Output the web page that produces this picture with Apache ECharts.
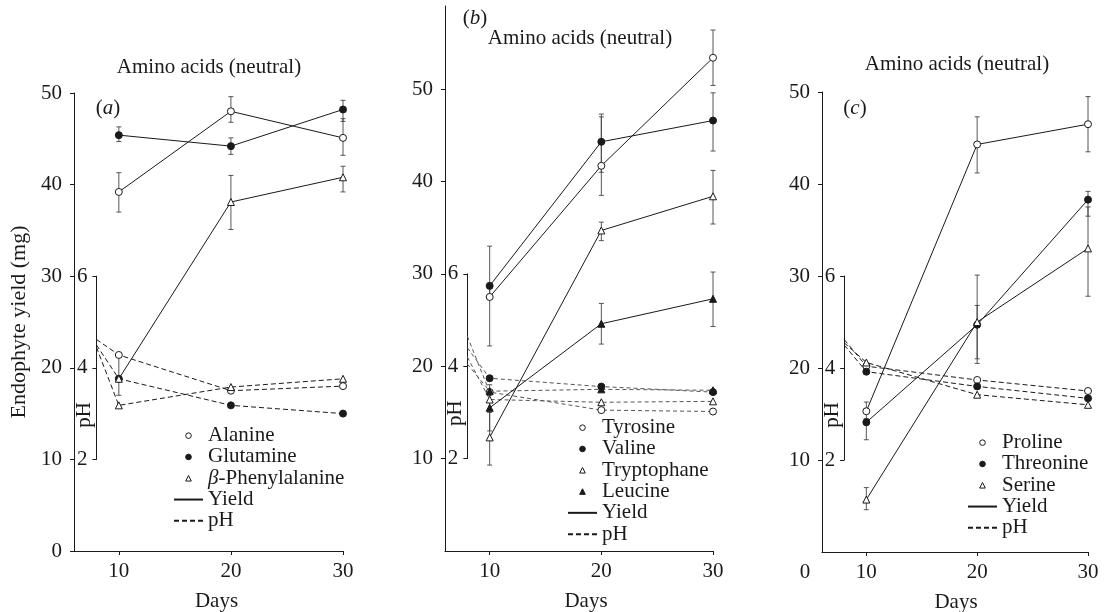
<!DOCTYPE html>
<html>
<head>
<meta charset="utf-8">
<script src="https://cdn.jsdelivr.net/npm/echarts@6/dist/echarts.min.js"></script>
<style>
  html, body { margin: 0; background: #fff; }
  #chart { width: 1109px; height: 612px; }
</style>
</head>
<body>
<div id="chart"></div>
<script>
// sampling days: yield is measured at 10/20/30, pH curves start at day 8
const days = [10, 20, 30]
const phDays = [8, 10, 20, 30]
const xTicks = [10, 20, 30]
const yTicksA = [0, 10, 20, 30, 40, 50]
const yTicksBC = [10, 20, 30, 40, 50]
const phTicks = [2, 4, 6]

// (a)
const alanineYield = [39.2, 48.0, 45.1]
const alanineErr = [[37.0, 41.3], [46.8, 49.6], [43.2, 47.2]]
const alaninePH = [4.62, 4.28, 3.5, 3.6]
const glutamineYield = [45.4, 44.2, 48.2]
const glutamineErr = [[44.7, 46.3], [43.3, 45.1], [46.9, 49.2]]
const glutaminePH = [4.5, 3.76, 3.18, 3.0]
const phenylalanineYield = [18.8, 38.1, 40.8]
const phenylalanineErr = [[17.0, 21.4], [35.1, 41.0], [39.2, 42.0]]
const phenylalaninePH = [4.45, 3.18, 3.58, 3.76]

// (b)
const tyrosineYield = [27.5, 41.7, 53.4]
const tyrosineErr = [[22.2, 29.0], [38.5, 47.0], [50.4, 56.4]]
const tyrosinePH = [4.65, 3.44, 3.05, 3.02]
const valineYield = [28.7, 44.3, 46.6]
const valineErr = [[27.5, 33.0], [41.0, 47.3], [43.3, 49.6]]
const valinePH = [4.4, 3.74, 3.56, 3.44]
const tryptophaneYield = [12.3, 34.7, 38.4]
const tryptophaneErr = [[9.3, 15.0], [33.6, 35.6], [35.4, 41.2]]
const tryptophanePH = [4.2, 3.28, 3.22, 3.24]
const leucineYield = [15.5, 24.6, 27.3]
const leucineErr = [[13.0, 18.0], [22.4, 26.8], [24.3, 30.2]]
const leucinePH = [4.05, 3.46, 3.5, 3.48]

// (c)
const prolineYield = [15.3, 44.3, 46.5]
const prolineErr = [[14.5, 16.3], [41.2, 47.3], [43.5, 49.5]]
const prolinePH = [4.62, 4.04, 3.74, 3.5]
const threonineYield = [14.1, 24.7, 38.3]
const threonineErr = [[12.2, 14.1], [20.5, 26.8], [36.5, 39.2]]
const threoninePH = [4.5, 3.92, 3.6, 3.34]
const serineYield = [5.7, 25.0, 33.0]
const serineErr = [[4.6, 7.0], [21.0, 30.1], [27.8, 37.5]]
const serinePH = [4.55, 4.12, 3.42, 3.2]

const INK = '#1a1a1a'
const FONT = 'Liberation Serif'

const MARK = {
  open: { symbol: 'circle', itemStyle: { color: '#fff', borderColor: INK, borderWidth: 1 } },
  dot: { symbol: 'circle', itemStyle: { color: INK, borderColor: INK, borderWidth: 1 } },
  openTri: { symbol: 'triangle', itemStyle: { color: '#fff', borderColor: INK, borderWidth: 1 } },
  dotTri: { symbol: 'triangle', itemStyle: { color: INK, borderColor: INK, borderWidth: 1 } }
}

const panels = [
  {
    grid: { left: 74, top: 93, width: 269, height: 458 },
    yMax: 50,
    yTicks: yTicksA,
    daysShift: 16,
    phDash: { color: INK, type: [5, 3] },
    legend: { left: 173, top: 425 },
    acids: [
      { name: 'Alanine', mark: 'open', y: alanineYield, err: alanineErr, ph: alaninePH },
      { name: 'Glutamine', mark: 'dot', y: glutamineYield, err: glutamineErr, ph: glutaminePH },
      { name: 'β-Phenylalanine', mark: 'openTri', y: phenylalanineYield, err: phenylalanineErr, ph: phenylalaninePH }
    ]
  },
  {
    grid: { left: 445, top: 6, width: 268, height: 545 },
    yMax: 59,
    yTicks: yTicksBC,
    daysShift: 14,
    phDash: { color: '#555', type: [4, 3] },
    legend: { left: 567, top: 417 },
    acids: [
      { name: 'Tyrosine', mark: 'open', y: tyrosineYield, err: tyrosineErr, ph: tyrosinePH },
      { name: 'Valine', mark: 'dot', y: valineYield, err: valineErr, ph: valinePH },
      { name: 'Tryptophane', mark: 'openTri', y: tryptophaneYield, err: tryptophaneErr, ph: tryptophanePH },
      { name: 'Leucine', mark: 'dotTri', y: leucineYield, err: leucineErr, ph: leucinePH }
    ]
  },
  {
    grid: { left: 822, top: 92, width: 266, height: 460 },
    yMax: 50,
    yTicks: yTicksBC,
    daysShift: 2,
    phDash: { color: INK, type: [5, 3] },
    legend: { left: 967, top: 432 },
    acids: [
      { name: 'Proline', mark: 'open', y: prolineYield, err: prolineErr, ph: prolinePH },
      { name: 'Threonine', mark: 'dot', y: threonineYield, err: threonineErr, ph: threoninePH },
      { name: 'Serine', mark: 'openTri', y: serineYield, err: serineErr, ph: serinePH }
    ]
  }
]

const labelStyle = { fontFamily: FONT, fontSize: 21, color: INK }

const grids = []
const xAxes = []
const yAxes = []
const series = []
const legends = []

const errorBar = (params, api) => {
  const x = api.value(0)
  const lo = api.coord([x, api.value(1)])
  const hi = api.coord([x, api.value(2)])
  const cap = 2.5
  const style = { stroke: '#444', lineWidth: 0.9 }
  return {
    type: 'group',
    children: [
      { type: 'line', shape: { x1: lo[0], y1: lo[1], x2: hi[0], y2: hi[1] }, style },
      { type: 'line', shape: { x1: hi[0] - cap, y1: hi[1], x2: hi[0] + cap, y2: hi[1] }, style },
      { type: 'line', shape: { x1: lo[0] - cap, y1: lo[1], x2: lo[0] + cap, y2: lo[1] }, style }
    ]
  }
}

panels.forEach((p, i) => {
  const g = p.grid
  const dayW = g.width / 24
  const unit = g.height / p.yMax
  const main = i * 2
  const ph = i * 2 + 1

  grids.push({ left: g.left, top: g.top, width: g.width, height: g.height, outerBoundsMode: 'none' })
  // pH scale: 2..6 sits beside yield 10..30, curves from day 8
  grids.push({
    left: g.left + dayW * 2,
    top: g.top + g.height - 30 * unit,
    width: g.width - dayW * 2,
    height: 20 * unit,
    outerBoundsMode: 'none'
  })

  xAxes.push({
    gridIndex: main,
    type: 'value',
    min: 6,
    max: 30,
    name: 'Days',
    nameLocation: 'middle',
    nameGap: 40,
    nameMoveOverlap: false,
    nameTextStyle: { ...labelStyle, padding: [0, 0, 0, p.daysShift] },
    axisLine: { lineStyle: { color: INK, width: 1 } },
    axisTick: { customValues: xTicks, length: 4, lineStyle: { color: INK } },
    axisLabel: { customValues: xTicks, margin: 10, ...labelStyle },
    splitLine: { show: false }
  })
  xAxes.push({ gridIndex: ph, type: 'value', min: 8, max: 30, show: false })

  yAxes.push({
    gridIndex: main,
    type: 'value',
    min: 0,
    max: p.yMax,
    name: i === 0 ? 'Endophyte yield (mg)' : '',
    nameLocation: 'middle',
    nameGap: 44,
    nameMoveOverlap: false,
    nameTextStyle: { ...labelStyle, fontSize: 22 },
    axisLine: { show: true, lineStyle: { color: INK, width: 1 } },
    axisTick: { show: true, customValues: p.yTicks, length: 4, lineStyle: { color: INK } },
    axisLabel: { customValues: p.yTicks, margin: 12, ...labelStyle },
    splitLine: { show: false }
  })
  yAxes.push({
    gridIndex: ph,
    type: 'value',
    min: 2,
    max: 6,
    interval: 2,
    name: 'pH',
    nameLocation: 'middle',
    nameGap: 1,
    nameMoveOverlap: false,
    nameTextStyle: { ...labelStyle, padding: [0, 94, 0, 0] },
    axisLine: { show: true, lineStyle: { color: INK, width: 1 } },
    axisTick: { show: true, customValues: phTicks, length: 4, lineStyle: { color: INK } },
    axisLabel: { customValues: phTicks, margin: 9, ...labelStyle },
    splitLine: { show: false }
  })

  p.acids.forEach(a => {
    const m = MARK[a.mark]
    series.push({
      name: a.name,
      type: 'line',
      xAxisIndex: main,
      yAxisIndex: main,
      symbol: m.symbol,
      symbolSize: 7,
      itemStyle: m.itemStyle,
      lineStyle: { color: INK, width: 1 },
      z: 4,
      data: days.map((d, k) => [d, a.y[k]])
    })
    series.push({
      name: a.name + ' pH',
      type: 'line',
      xAxisIndex: ph,
      yAxisIndex: ph,
      symbol: m.symbol,
      symbolSize: 7,
      itemStyle: m.itemStyle,
      lineStyle: { width: 1, ...p.phDash },
      z: 3,
      data: phDays.map((d, k) => (k === 0 ? { value: [d, a.ph[k]], symbol: 'none' } : [d, a.ph[k]]))
    })
    series.push({
      name: a.name + ' error',
      type: 'custom',
      xAxisIndex: main,
      yAxisIndex: main,
      renderItem: errorBar,
      z: 2,
      data: days.map((d, k) => [d, a.err[k][0], a.err[k][1]])
    })
  })

  legends.push({
    orient: 'vertical',
    left: p.legend.left,
    top: p.legend.top,
    padding: 0,
    itemWidth: 29,
    itemHeight: 7,
    itemGap: 0,
    selectedMode: false,
    itemStyle: { borderWidth: 1 },
    textStyle: {
      ...labelStyle,
      lineHeight: 21.3,
      rich: { i: { fontFamily: FONT, fontSize: 21, fontStyle: 'italic', color: INK, lineHeight: 21.3 } }
    },
    formatter: n => n.replace('β', '{i|β}'),
    data: [
      ...p.acids.map(a => ({ name: a.name, lineStyle: { opacity: 0 } })),
      { name: 'Yield', itemStyle: { opacity: 0 } },
      { name: 'pH', itemStyle: { opacity: 0 } }
    ]
  })
})

// legend-only entries for the line styles
series.push({
  name: 'Yield', type: 'line', symbol: 'none', data: [],
  lineStyle: { color: INK, width: 1 }, itemStyle: { color: INK }
})
series.push({
  name: 'pH', type: 'line', symbol: 'none', data: [],
  lineStyle: { color: INK, width: 1, type: [5, 3] }, itemStyle: { color: INK }
})

const text = (x, y, t, extra) => ({
  type: 'text',
  x,
  y,
  style: {
    text: t,
    font: '21px "Liberation Serif"',
    fill: INK,
    align: 'center',
    verticalAlign: 'middle',
    rich: { i: { font: 'italic 21px "Liberation Serif"', fill: INK } },
    ...extra
  }
})

const chart = echarts.init(document.getElementById('chart'))
chart.setOption({
  animation: false,
  backgroundColor: '#fff',
  grid: grids,
  xAxis: xAxes,
  yAxis: yAxes,
  legend: legends,
  series,
  graphic: [
    text(209, 67, 'Amino acids (neutral)'),
    text(580, 38, 'Amino acids (neutral)'),
    text(957, 64, 'Amino acids (neutral)'),
    text(108, 108, '({i|a})'),
    text(475, 18, '({i|b})'),
    text(855, 108, '({i|c})'),
    text(805, 572, '0')
  ]
})
</script>
</body>
</html>
